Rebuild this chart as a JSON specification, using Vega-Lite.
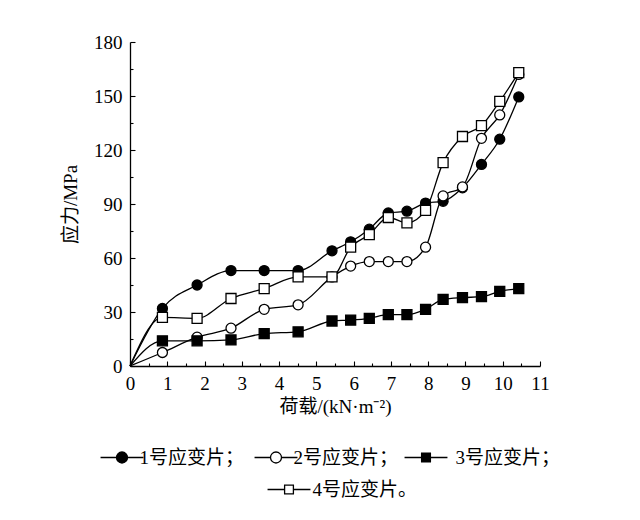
{
  "$schema": "https://vega.github.io/schema/vega-lite/v6.json",
  "width": 410,
  "height": 324,
  "autosize": "none",
  "padding": {"left": 130, "top": 42, "right": 100, "bottom": 154},
  "background": "white",
  "config": {
    "view": {"stroke": null},
    "font": "Liberation Serif, Noto Sans CJK SC",
    "axis": {
      "domainColor": "black",
      "domainWidth": 1.3,
      "labelFont": "Liberation Serif",
      "labelFontSize": 19,
      "labelColor": "black",
      "titleFont": "Liberation Serif, Noto Sans CJK SC",
      "titleFontSize": 19,
      "titleFontWeight": "normal",
      "titleColor": "black"
    },
    "legend": {
      "title": null,
      "orient": "none",
      "direction": "horizontal",
      "labelFont": "Liberation Serif, Noto Sans CJK SC",
      "labelFontSize": 19,
      "labelColor": "black",
      "labelOffset": 8,
      "symbolSize": 121,
      "symbolStrokeWidth": 1.3,
      "symbolStrokeColor": "black"
    }
  },
  "data": {
    "values": [
      {"series": "1号应变片；", "x": 0, "y": 0},
      {"series": "1号应变片；", "x": 0.87, "y": 32},
      {"series": "1号应变片；", "x": 1.8, "y": 45},
      {"series": "1号应变片；", "x": 2.71, "y": 53},
      {"series": "1号应变片；", "x": 3.6, "y": 53},
      {"series": "1号应变片；", "x": 4.51, "y": 53},
      {"series": "1号应变片；", "x": 5.42, "y": 64},
      {"series": "1号应变片；", "x": 5.92, "y": 69},
      {"series": "1号应变片；", "x": 6.42, "y": 76},
      {"series": "1号应变片；", "x": 6.93, "y": 85},
      {"series": "1号应变片；", "x": 7.43, "y": 86},
      {"series": "1号应变片；", "x": 7.93, "y": 90.5},
      {"series": "1号应变片；", "x": 8.4, "y": 91.5},
      {"series": "1号应变片；", "x": 8.92, "y": 99},
      {"series": "1号应变片；", "x": 9.43, "y": 112},
      {"series": "1号应变片；", "x": 9.92, "y": 126},
      {"series": "1号应变片；", "x": 10.43, "y": 149.5},
      {"series": "2号应变片；", "x": 0, "y": 0},
      {"series": "2号应变片；", "x": 0.87, "y": 7.5},
      {"series": "2号应变片；", "x": 1.8, "y": 16},
      {"series": "2号应变片；", "x": 2.71, "y": 21},
      {"series": "2号应变片；", "x": 3.6, "y": 31.5},
      {"series": "2号应变片；", "x": 4.51, "y": 34},
      {"series": "2号应变片；", "x": 5.42, "y": 49.5},
      {"series": "2号应变片；", "x": 5.92, "y": 55.5},
      {"series": "2号应变片；", "x": 6.42, "y": 58},
      {"series": "2号应变片；", "x": 6.93, "y": 58},
      {"series": "2号应变片；", "x": 7.43, "y": 58},
      {"series": "2号应变片；", "x": 7.93, "y": 66},
      {"series": "2号应变片；", "x": 8.4, "y": 94.5},
      {"series": "2号应变片；", "x": 8.92, "y": 99.5},
      {"series": "2号应变片；", "x": 9.43, "y": 126.5},
      {"series": "2号应变片；", "x": 9.92, "y": 139.5},
      {"series": "2号应变片；", "x": 10.43, "y": 162},
      {"series": "3号应变片；", "x": 0, "y": 0},
      {"series": "3号应变片；", "x": 0.87, "y": 14},
      {"series": "3号应变片；", "x": 1.8, "y": 14},
      {"series": "3号应变片；", "x": 2.71, "y": 14.5},
      {"series": "3号应变片；", "x": 3.6, "y": 18},
      {"series": "3号应变片；", "x": 4.51, "y": 19},
      {"series": "3号应变片；", "x": 5.42, "y": 25},
      {"series": "3号应变片；", "x": 5.92, "y": 25.5},
      {"series": "3号应变片；", "x": 6.42, "y": 26.5},
      {"series": "3号应变片；", "x": 6.93, "y": 28.5},
      {"series": "3号应变片；", "x": 7.43, "y": 28.5},
      {"series": "3号应变片；", "x": 7.93, "y": 31.5},
      {"series": "3号应变片；", "x": 8.4, "y": 37},
      {"series": "3号应变片；", "x": 8.92, "y": 38},
      {"series": "3号应变片；", "x": 9.43, "y": 38.5},
      {"series": "3号应变片；", "x": 9.92, "y": 41.5},
      {"series": "3号应变片；", "x": 10.43, "y": 43},
      {"series": "4号应变片。", "x": 0, "y": 0},
      {"series": "4号应变片。", "x": 0.87, "y": 27},
      {"series": "4号应变片。", "x": 1.8, "y": 26.5},
      {"series": "4号应变片。", "x": 2.71, "y": 37.5},
      {"series": "4号应变片。", "x": 3.6, "y": 43},
      {"series": "4号应变片。", "x": 4.51, "y": 49.5},
      {"series": "4号应变片。", "x": 5.42, "y": 49.5},
      {"series": "4号应变片。", "x": 5.92, "y": 66},
      {"series": "4号应变片。", "x": 6.42, "y": 73},
      {"series": "4号应变片。", "x": 6.93, "y": 82.5},
      {"series": "4号应变片。", "x": 7.43, "y": 79.5},
      {"series": "4号应变片。", "x": 7.93, "y": 86.5},
      {"series": "4号应变片。", "x": 8.4, "y": 113},
      {"series": "4号应变片。", "x": 8.92, "y": 127.5},
      {"series": "4号应变片。", "x": 9.43, "y": 133.5},
      {"series": "4号应变片。", "x": 9.92, "y": 147},
      {"series": "4号应变片。", "x": 10.43, "y": 163}
    ]
  },
  "encoding": {
    "x": {
      "field": "x",
      "type": "quantitative",
      "scale": {"domain": [0, 11], "nice": false},
      "axis": {
        "title": "荷载/(kN·m⁻²)",
        "values": [0, 0.5, 1, 1.5, 2, 2.5, 3, 3.5, 4, 4.5, 5, 5.5, 6, 6.5, 7, 7.5, 8, 8.5, 9, 9.5, 10, 10.5, 11],
        "labelExpr": "datum.value % 1 !== 0 ? '' : format(datum.value, 'd')",
        "ticks": false,
        "grid": true,
        "gridColor": "black",
        "gridOpacity": 1,
        "gridWidth": 1.1,
        "gridDash": {"condition": {"test": "datum.value % 1 !== 0", "value": [0, 321, 3, 2000]}, "value": [0, 319, 5, 2000]},
        "labelPadding": 8,
        "labelFlush": false,
        "titlePadding": 4
      }
    },
    "y": {
      "field": "y",
      "type": "quantitative",
      "scale": {"domain": [0, 180], "nice": false},
      "axis": {
        "title": "应力/MPa",
        "values": [0, 15, 30, 45, 60, 75, 90, 105, 120, 135, 150, 165, 180],
        "labelExpr": "datum.value % 30 !== 0 ? '' : datum.label",
        "ticks": false,
        "grid": true,
        "gridColor": "black",
        "gridOpacity": 1,
        "gridWidth": 1.1,
        "gridDash": {"condition": {"test": "datum.value % 30 !== 0", "value": [3, 2000]}, "value": [5, 2000]},
        "labelPadding": 8,
        "labelFlush": false,
        "titlePadding": 13
      }
    }
  },
  "layer": [
    {
      "mark": {"type": "line", "color": "black", "strokeWidth": 1.3, "interpolate": "monotone"},
      "encoding": {"detail": {"field": "series"}}
    },
    {
      "transform": [{"filter": "datum.x > 0 && datum.series == '1号应变片；'"}],
      "mark": {"type": "point", "shape": "circle", "filled": true, "stroke": "black", "strokeWidth": 1.3, "opacity": 1, "size": 100},
      "encoding": {
        "fill": {
          "field": "series",
          "scale": {"range": ["black"]},
          "legend": {"legendX": -17.5, "legendY": 406, "symbolType": "M-3.9,0H-1M1,0H3.9M1,0A1,1,0,1,1,-1,0A1,1,0,1,1,1,0Z"}
        }
      }
    },
    {
      "transform": [{"filter": "datum.x > 0 && datum.series == '2号应变片；'"}],
      "mark": {"type": "point", "shape": "circle", "filled": true, "stroke": "black", "strokeWidth": 1.3, "opacity": 1, "size": 100},
      "encoding": {
        "fill": {
          "field": "series",
          "scale": {"range": ["white"]},
          "legend": {"legendX": 136.5, "legendY": 406, "symbolType": "M-3.9,0H-1M1,0H3.9M1,0A1,1,0,1,1,-1,0A1,1,0,1,1,1,0Z"}
        }
      }
    },
    {
      "transform": [{"filter": "datum.x > 0 && datum.series == '3号应变片；'"}],
      "mark": {"type": "point", "shape": "square", "filled": true, "stroke": "black", "strokeWidth": 1.3, "opacity": 1, "size": 100},
      "encoding": {
        "fill": {
          "field": "series",
          "scale": {"range": ["black"]},
          "legend": {"legendX": 286.5, "legendY": 406, "labelOffset": 20, "symbolType": "M-3.9,0H-0.8M0.8,0H3.9M-0.8,-0.8H0.8V0.8H-0.8Z"}
        }
      }
    },
    {
      "transform": [{"filter": "datum.x > 0 && datum.series == '4号应变片。'"}],
      "mark": {"type": "point", "shape": "square", "filled": true, "stroke": "black", "strokeWidth": 1.3, "opacity": 1, "size": 100},
      "encoding": {
        "fill": {
          "field": "series",
          "scale": {"range": ["white"]},
          "legend": {"legendX": 149.5, "legendY": 438, "labelOffset": 14, "symbolType": "M-3.9,0H-0.8M0.8,0H3.9M-0.8,-0.8H0.8V0.8H-0.8Z"}
        }
      }
    }
  ],
  "resolve": {"scale": {"fill": "independent"}, "legend": {"fill": "independent"}}
}
